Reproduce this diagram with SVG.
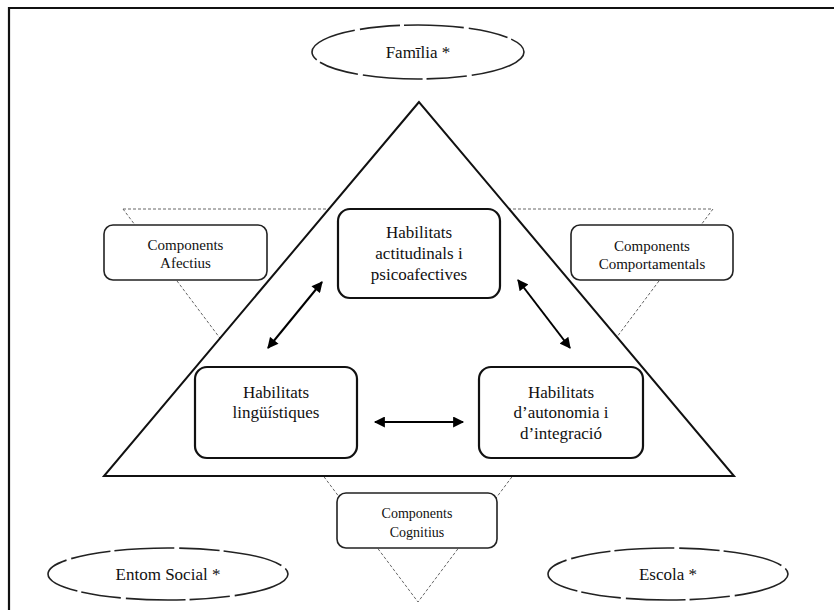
<svg xmlns="http://www.w3.org/2000/svg" width="834" height="610" viewBox="0 0 834 610">
<defs>
<marker id="ah" viewBox="0 0 10 10" refX="9" refY="5" markerWidth="6" markerHeight="5.5" orient="auto-start-reverse" markerUnits="strokeWidth">
<path d="M0,0 L10,5 L0,10 z" fill="#000"/>
</marker>
<style>
.t{font-family:"Liberation Serif","Times New Roman",serif;fill:#111;text-anchor:middle}
.big{font-size:17px}
.sm{font-size:15px}
.xs{font-size:14px}
.main{fill:#fff;stroke:#111;stroke-width:2.2}
.side{fill:#fff;stroke:#222;stroke-width:1.6}
.ell{fill:#fff;stroke:#222;stroke-width:1.6;stroke-dasharray:60 5 40 4}
.conn{stroke:#000;stroke-width:2;fill:none;marker-start:url(#ah);marker-end:url(#ah)}
</style>
</defs>
<rect width="834" height="610" fill="#fff"/>
<path d="M9,610 V8 H834" fill="none" stroke="#111" stroke-width="2.2"/>
<g id="backdrop">
<polygon points="123,209 713,209 418,602" fill="none" stroke="#666" stroke-width="1" stroke-dasharray="3 2"/>
<polygon points="419,102 104,476 734,476" fill="#fff" stroke="#111" stroke-width="2"/>
</g>
<g id="familia">
<ellipse class="ell" cx="418" cy="52" rx="106" ry="27"/>
<text class="t big" x="418" y="58">Famīlia *</text>
</g>
<g id="entorn">
<ellipse class="ell" cx="168" cy="574" rx="120" ry="26"/>
<text class="t big" x="168" y="580">Entom Social *</text>
</g>
<g id="escola">
<ellipse class="ell" cx="668" cy="574" rx="120" ry="26"/>
<text class="t big" x="668" y="580">Escola *</text>
</g>
<g id="afectius">
<rect class="side" x="104" y="225" width="163" height="55" rx="9"/>
<text class="t sm" x="185.5" y="250">Components</text>
<text class="t sm" x="185.5" y="268">Afectius</text>
</g>
<g id="comportamentals">
<rect class="side" x="571" y="225" width="162" height="55" rx="9"/>
<text class="t sm" x="652" y="251">Components</text>
<text class="t sm" x="652" y="269">Comportamentals</text>
</g>
<g id="cognitius">
<rect class="side" x="337" y="493" width="160" height="55" rx="9"/>
<text class="t xs" x="417" y="518">Components</text>
<text class="t xs" x="417" y="537">Cognitius</text>
</g>
<g id="actitudinals">
<rect class="main" x="338" y="209" width="162" height="89" rx="12"/>
<text class="t big" x="419" y="238">Habilitats</text>
<text class="t big" x="419" y="259">actitudinals i</text>
<text class="t big" x="419" y="280">psicoafectives</text>
</g>
<g id="linguistiques">
<rect class="main" x="195" y="367" width="162" height="91" rx="12"/>
<text class="t big" x="276" y="398">Habilitats</text>
<text class="t big" x="276" y="418">lingüístiques</text>
</g>
<g id="autonomia">
<rect class="main" x="479" y="367" width="164" height="91" rx="12"/>
<text class="t big" x="561" y="398">Habilitats</text>
<text class="t big" x="561" y="418">d’autonomia i</text>
<text class="t big" x="561" y="439">d’integració</text>
</g>
<g id="connectors">
<line class="conn" x1="322" y1="282" x2="268" y2="348"/>
<line class="conn" x1="518" y1="280" x2="570" y2="348"/>
<line class="conn" x1="375" y1="422" x2="463" y2="422"/>
</g>
</svg>
